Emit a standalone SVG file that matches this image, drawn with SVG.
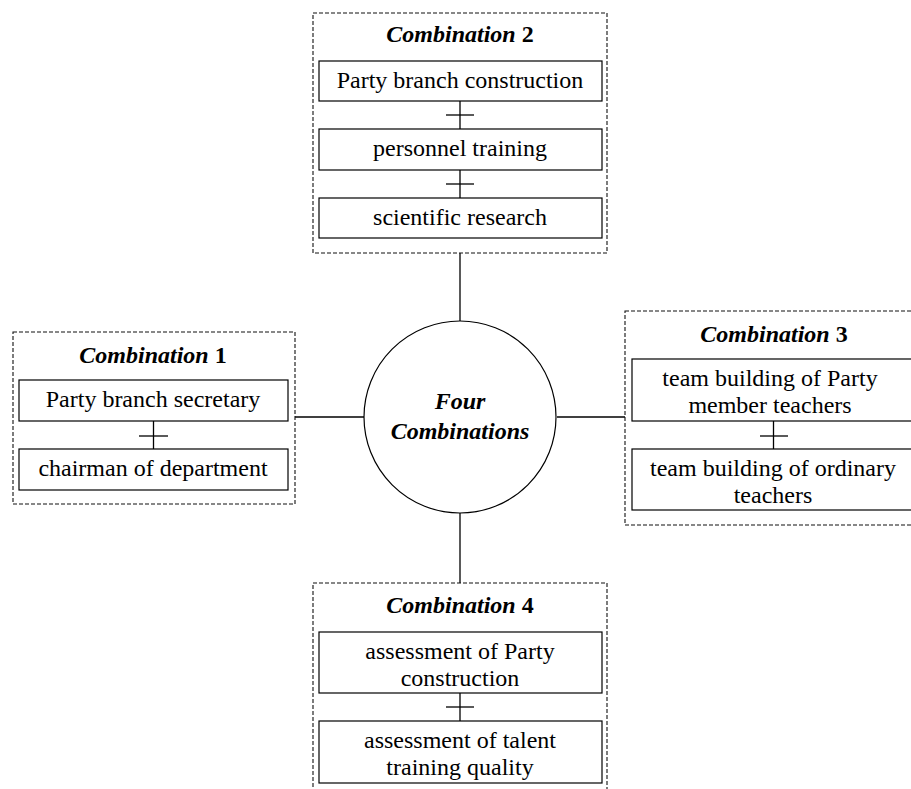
<svg xmlns="http://www.w3.org/2000/svg" width="911" height="789" viewBox="0 0 911 789">
<style>
text{font-family:"Liberation Serif","Times New Roman",serif;font-size:24px;fill:#000;text-anchor:middle}
.t{font-weight:bold}
.t tspan.i,.c{font-style:italic}
.c{font-weight:bold}
.grp{fill:#fff;stroke:#111;stroke-width:1.1;stroke-dasharray:4 2}
.box{fill:#fff;stroke:#000;stroke-width:1.2}
.ln{stroke:#000;stroke-width:1.3;fill:none}
</style>
<rect width="911" height="789" fill="#fff"/>
<g id="connectors">
<line class="ln" x1="460" y1="253" x2="460" y2="322"/>
<line class="ln" x1="295" y1="417" x2="364" y2="417"/>
<line class="ln" x1="557" y1="417" x2="625" y2="417"/>
<line class="ln" x1="460" y1="513" x2="460" y2="583"/>
</g>
<g id="center">
<circle class="box" cx="460" cy="417" r="96"/>
<text class="c" x="460" y="409">Four</text>
<text class="c" x="460" y="439">Combinations</text>
</g>
<g id="combination2">
<rect class="grp" x="313" y="13" width="294" height="240"/>
<text class="t" x="460" y="42"><tspan class="i">Combination</tspan> 2</text>
<rect class="box" x="319" y="61" width="283" height="40"/>
<text x="460" y="88">Party branch construction</text>
<line class="ln" x1="460" y1="101" x2="460" y2="129"/>
<line class="ln" x1="446" y1="115" x2="474" y2="115"/>
<rect class="box" x="319" y="129" width="283" height="41"/>
<text x="460" y="156">personnel training</text>
<line class="ln" x1="460" y1="170" x2="460" y2="198"/>
<line class="ln" x1="446" y1="184" x2="474" y2="184"/>
<rect class="box" x="319" y="198" width="283" height="40"/>
<text x="460" y="225">scientific research</text>
</g>
<g id="combination1">
<rect class="grp" x="13" y="332" width="282" height="172"/>
<text class="t" x="153" y="363"><tspan class="i">Combination</tspan> 1</text>
<rect class="box" x="19" y="380" width="269" height="41"/>
<text x="153" y="407">Party branch secretary</text>
<line class="ln" x1="153.5" y1="421" x2="153.5" y2="449"/>
<line class="ln" x1="139" y1="436" x2="168" y2="436"/>
<rect class="box" x="19" y="449" width="269" height="41"/>
<text x="153" y="476">chairman of department</text>
</g>
<g id="combination3">
<rect class="grp" x="625" y="311" width="294" height="214"/>
<text class="t" x="774" y="342"><tspan class="i">Combination</tspan> 3</text>
<rect class="box" x="632" y="359" width="283" height="62"/>
<text x="770" y="386">team building of Party</text>
<text x="770" y="413">member teachers</text>
<line class="ln" x1="773.5" y1="421" x2="773.5" y2="449"/>
<line class="ln" x1="760" y1="436" x2="788" y2="436"/>
<rect class="box" x="632" y="449" width="283" height="61"/>
<text x="773" y="476">team building of ordinary</text>
<text x="773" y="503">teachers</text>
</g>
<g id="combination4">
<rect class="grp" x="313" y="583" width="294" height="240"/>
<text class="t" x="460" y="613"><tspan class="i">Combination</tspan> 4</text>
<rect class="box" x="319" y="632" width="283" height="61"/>
<text x="460" y="659">assessment of Party</text>
<text x="460" y="686">construction</text>
<line class="ln" x1="460" y1="693" x2="460" y2="721"/>
<line class="ln" x1="446" y1="707" x2="474" y2="707"/>
<rect class="box" x="319" y="721" width="283" height="62"/>
<text x="460" y="748">assessment of talent</text>
<text x="460" y="775">training quality</text>
</g>
</svg>
